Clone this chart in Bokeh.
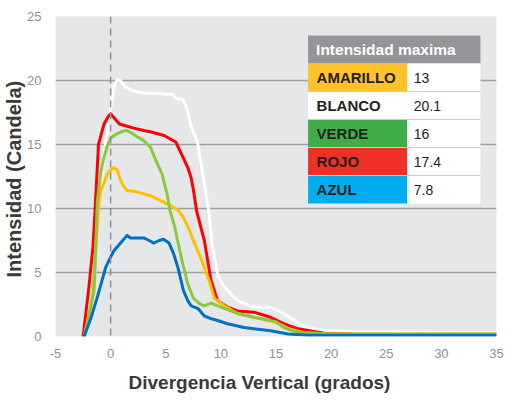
from bokeh.plotting import figure
from bokeh.models import Range1d, Span, FixedTicker, Title
from bokeh.core.properties import value
from bokeh.embed import file_html
from bokeh.resources import INLINE

# ---------------- data ----------------
blanco_x = [-2.5, -2.0, -1.5, -1.0, -0.5, 0.0, 0.3, 0.6, 0.9, 1.3, 2.0, 3.0, 4.0, 5.0, 5.6, 5.9, 6.6, 7.0, 7.3,
            7.9, 8.3, 8.6, 8.9, 9.2, 9.7, 10.2, 10.6, 11.5, 12.7, 14.5, 15.5, 16.4, 17.6, 19.4, 22.0, 35.0]
blanco_y = [0.0, 3.2, 7.0, 11.0, 14.8, 17.8, 19.5, 20.1, 20.0, 19.5, 19.2, 19.0, 19.0, 18.95, 18.9, 18.6, 18.5, 17.6, 16.4,
            15.1, 13.0, 11.4, 9.8, 7.2, 4.9, 4.0, 3.6, 2.8, 2.35, 2.25, 1.9, 1.4, 0.75, 0.47, 0.38, 0.3]

rojo_x = [-2.5, -2.0, -1.6, -1.4, -1.1, -0.6, -0.2, 0.0, 0.4, 0.8, 1.2, 2.0, 3.0, 3.6, 4.85, 5.9, 6.4, 6.7, 7.0, 7.3,
          7.5, 7.8, 8.5, 9.1, 9.7, 10.6, 11.5, 13.0, 14.5, 15.7, 17.0, 19.4, 22.0, 35.0]
rojo_y = [0.0, 3.6, 7.0, 10.1, 15.0, 16.6, 17.2, 17.4, 17.0, 16.6, 16.5, 16.3, 16.1, 16.0, 15.7, 15.2, 14.3, 13.75, 13.2, 12.4,
          11.5, 9.8, 7.5, 4.4, 2.8, 2.3, 2.0, 1.9, 1.5, 1.0, 0.6, 0.25, 0.18, 0.15]

verde_x = [-2.4, -2.0, -1.5, -1.2, -0.9, -0.6, -0.3, 0.0, 0.5, 1.0, 1.4, 1.9, 2.4, 3.0, 3.6, 4.1, 4.4, 4.7, 5.15,
           5.4, 5.8, 6.4, 7.0, 7.5, 8.0, 8.5, 9.1, 10.0, 11.5, 13.0, 14.5, 15.0, 15.7, 16.5, 17.5, 20.0, 35.0]
verde_y = [0.0, 1.5, 3.6, 10.6, 12.8, 14.0, 14.9, 15.5, 15.8, 16.0, 16.1, 15.9, 15.6, 15.3, 14.8, 13.75, 13.2, 12.6, 11.0,
           9.8, 8.6, 6.2, 4.1, 3.0, 2.6, 2.4, 2.6, 2.3, 1.8, 1.5, 1.25, 1.15, 0.7, 0.45, 0.3, 0.2, 0.2]

amarillo_x = [-2.4, -2.0, -1.7, -1.4, -1.1, -0.9, -0.6, -0.3, 0.0, 0.25, 0.6, 0.9, 1.2, 1.5, 2.4, 3.6, 4.8, 5.5, 6.1,
              6.6, 7.0, 7.5, 8.0, 8.5, 9.0, 9.4, 10.3, 11.5, 13.0, 14.5, 15.3, 16.1, 17.5, 20.0, 35.0]
amarillo_y = [0.0, 1.5, 2.8, 6.0, 10.1, 11.4, 12.0, 12.7, 13.0, 13.2, 13.0, 12.2, 11.7, 11.4, 11.3, 11.0, 10.5, 10.2, 9.9,
              9.3, 8.6, 7.5, 6.5, 5.4, 4.2, 3.0, 2.4, 1.8, 1.5, 1.2, 1.0, 0.6, 0.3, 0.2, 0.2]

azul_x = [-2.4, -1.8, -1.2, -0.8, -0.45, 0.0, 0.3, 0.9, 1.5, 1.8, 2.1, 3.0, 3.5, 3.9, 4.4, 4.8, 5.3, 5.7, 6.1, 6.6,
          7.0, 7.3, 7.9, 8.5, 9.1, 9.7, 10.6, 12.1, 13.0, 14.5, 16.1, 18.0, 35.0]
azul_y = [0.0, 1.4, 3.1, 4.3, 5.4, 6.2, 6.7, 7.3, 7.9, 7.7, 7.7, 7.7, 7.5, 7.3, 7.5, 7.6, 7.3, 6.5, 5.4, 3.6,
          2.8, 2.4, 2.2, 1.6, 1.4, 1.25, 1.0, 0.7, 0.6, 0.45, 0.2, 0.1, 0.1]

table_names = ["AMARILLO", "BLANCO", "VERDE", "ROJO", "AZUL"]
table_values = ["13", "20.1", "16", "17.4", "7.8"]
table_title = "Intensidad maxima"

x_ticks = [-5, 0, 5, 10, 15, 20, 25, 30, 35]
y_ticks = [0, 5, 10, 15, 20, 25]
x_title = "Divergencia Vertical (grados)"
y_title = "Intensidad (Candela)"

# ---------------- styles ----------------
LINE_COLORS = {"BLANCO": "#ffffff", "ROJO": "#ff0000", "VERDE": "#8cc83f", "AMARILLO": "#ffc000", "AZUL": "#0070c0"}
CELL_COLORS = {"AMARILLO": "#fec22d", "BLANCO": "#ffffff", "VERDE": "#3fae49", "ROJO": "#ee3124", "AZUL": "#00aeef"}
FONT = "Liberation Sans"

W, H = 505, 402
ML, MR, MT, MB = 55, 9, 16, 66

p = figure(width=W, height=H, output_backend="svg", toolbar_location=None,
           x_range=Range1d(-5, 35), y_range=Range1d(0, 25),
           min_border_left=ML, min_border_right=MR, min_border_top=MT, min_border_bottom=MB)
p.background_fill_color = "#e6e7e8"
p.border_fill_color = "#ffffff"
p.outline_line_color = None

p.xgrid.visible = False
p.ygrid.ticker = FixedTicker(ticks=y_ticks)
p.ygrid.grid_line_color = "#9d9fa2"
p.ygrid.grid_line_width = 1.5

for ax in (p.xaxis[0], p.yaxis[0]):
    ax.axis_line_color = None
    ax.major_tick_line_color = None
    ax.minor_tick_line_color = None
    ax.major_label_text_font = FONT
    ax.major_label_text_font_size = "13px"
    ax.major_label_text_color = "#8f9194"
p.xaxis[0].ticker = FixedTicker(ticks=x_ticks)
p.xaxis[0].major_label_overrides = {t: str(t) for t in x_ticks}
p.yaxis[0].ticker = FixedTicker(ticks=y_ticks)
p.xaxis[0].major_label_standoff = 6
p.yaxis[0].major_label_standoff = 8

p.add_layout(Span(location=0, dimension="height", line_color="#8f9194", line_width=1.5, line_dash="7 5"))

series = [("BLANCO", blanco_x, blanco_y), ("ROJO", rojo_x, rojo_y), ("AMARILLO", amarillo_x, amarillo_y),
          ("VERDE", verde_x, verde_y), ("AZUL", azul_x, azul_y)]
for name, xs, ys in series:
    p.line(xs, ys, line_color=LINE_COLORS[name], line_width=3, line_join="round")

# ---------- table (layout in page pixels -> data coords) ----------
FL, FB = 55.0, 336.0   # frame left / bottom on the page
PXU, PYU = 11.0, 12.8  # pixels per data unit
def dx(px):
    return -5 + (px - FL) / PXU
def dy(py):
    return (FB - py) / PYU

T_L, T_M, T_R, T_TOP, ROW_H = 307, 406, 479, 35, 28
p.quad(left=[dx(T_L)], right=[dx(T_R)], top=[dy(T_TOP)], bottom=[dy(T_TOP + ROW_H)],
       fill_color="#939598", line_color=None)
n = len(table_names)
tops = [dy(T_TOP + ROW_H * (i + 1)) for i in range(n)]
bots = [dy(T_TOP + ROW_H * (i + 2)) for i in range(n)]
p.quad(left=[dx(T_L)] * n, right=[dx(T_M)] * n, top=tops, bottom=bots,
       fill_color=[CELL_COLORS[k] for k in table_names], line_color=None)
p.quad(left=[dx(T_M)] * n, right=[dx(T_R)] * n, top=tops, bottom=bots,
       fill_color="#ffffff", line_color=None)
sep_y = [dy(T_TOP + ROW_H * (i + 2)) for i in range(n - 1)]
p.segment(x0=[dx(T_L)] * (n - 1), x1=[dx(T_R)] * (n - 1), y0=sep_y, y1=sep_y,
          line_color="#c9cacc", line_width=1.2)

p.text(x=[dx(315)], y=[dy(T_TOP + ROW_H / 2)], text=[table_title], text_font=value(FONT),
       text_font_size="15.5px", text_font_style="bold", text_color="#ffffff", text_baseline="middle")
mids = [dy(T_TOP + ROW_H * (i + 1.5)) for i in range(n)]
p.text(x=[dx(315.5)] * n, y=mids, text=table_names, text_font=value(FONT), text_font_size="15px",
       text_font_style="bold", text_color="#231f20", text_baseline="middle")
p.text(x=[dx(412.5)] * n, y=mids, text=table_values, text_font=value(FONT), text_font_size="14px",
       text_color="#231f20", text_baseline="middle")

# axis titles as side titles (can sit outside the frame)
p.add_layout(Title(text=x_title, align="left", offset=73, standoff=19, text_baseline="middle",
                   text_font=FONT, text_font_size="19px", text_font_style="bold", text_color="#3a3a3a"), "below")
p.add_layout(Title(text=y_title, align="left", offset=59, standoff=0, text_baseline="middle", text_font=FONT,
                   text_font_size="20px", text_font_style="bold", text_color="#3a3a3a"), "left")

open("out.html", "w").write(file_html(p, INLINE))
